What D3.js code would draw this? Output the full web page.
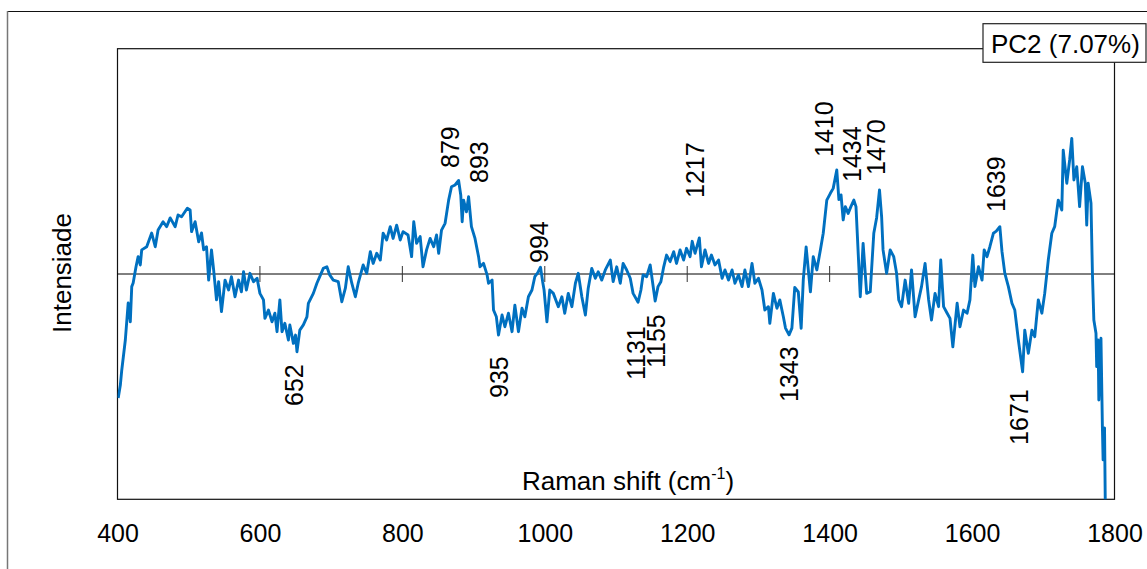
<!DOCTYPE html>
<html>
<head>
<meta charset="utf-8">
<script src="https://cdn.jsdelivr.net/npm/d3@7/dist/d3.min.js"></script>
<style>
  html, body { margin: 0; padding: 0; background: #fff; }
  svg { display: block; font-family: "Liberation Sans", Arial, sans-serif; }
</style>
</head>
<body>
<svg id="chart" width="1147" height="569"></svg>
<script>
// PC2 loading spectrum (arbitrary intensity units)
const wavenumber = [
  401,404,406,411,415,418,420,422,426,429,432,434,441,448,453,457,464,469,474,481,
  485,490,498,502,504,509,514,518,521,525,528,532,535,539,542,546,551,556,560,565,
  570,574,577,581,586,591,596,600,605,607,612,617,621,624,628,631,635,640,642,647,
  650,652,656,661,666,668,675,680,684,689,694,698,703,710,715,720,724,729,734,738,
  745,750,755,759,764,769,773,778,783,787,792,797,801,808,813,816,820,825,829,834,
  839,844,848,851,855,860,865,869,874,879,882,884,886,890,893,897,902,907,909,914,
  919,921,926,928,932,935,940,944,949,954,958,963,968,972,977,982,986,990,994,997,
  999,1003,1007,1012,1019,1024,1028,1033,1038,1043,1047,1052,1057,1061,1066,1071,1075,1080,1085,1092,
  1096,1101,1106,1110,1115,1120,1124,1131,1135,1138,1143,1148,1155,1159,1163,1167,1171,1176,1181,1185,
  1190,1195,1199,1204,1207,1211,1217,1220,1225,1230,1234,1239,1244,1249,1253,1258,1263,1267,1272,1277,
  1281,1286,1291,1295,1300,1305,1309,1314,1316,1321,1326,1330,1335,1338,1343,1347,1351,1356,1360,1363,
  1367,1373,1377,1382,1387,1391,1396,1401,1405,1410,1413,1416,1419,1422,1426,1430,1434,1437,1439,1443,
  1447,1452,1457,1462,1466,1470,1473,1475,1480,1485,1490,1494,1497,1501,1506,1511,1515,1520,1525,1529,
  1534,1539,1543,1548,1553,1556,1560,1565,1569,1573,1579,1583,1588,1593,1597,1601,1604,1609,1614,1617,
  1621,1625,1630,1634,1639,1642,1646,1651,1656,1660,1665,1671,1674,1679,1684,1688,1693,1698,1702,1707,
  1712,1716,1721,1726,1728,1733,1737,1740,1743,1747,1751,1755,1759,1761,1763,1767,1769,1771,1774,1775,
  1777,1778,1781,1783,1784,1786,1787
];
const intensity = [
  -55.0,-49.3,-42.6,-29.3,-12.9,-21.2,-5.6,-4.0,3.2,7.7,4.0,10.7,12.1,18.2,12.1,19.5,23.2,21.0,24.9,21.0,
  26.2,25.4,29.2,28.4,18.8,23.2,14.3,18.2,10.7,12.1,-2.7,10.7,1.8,-11.5,-3.4,-16.7,-2.7,-7.1,-1.2,-10.1,
  -2.7,-7.9,1.0,-7.1,0.3,-3.4,-1.9,-8.6,-11.5,-19.7,-16.0,-21.2,-17.4,-25.6,-11.5,-25.6,-21.9,-29.3,-22.6,-30.8,
  -27.1,-34.5,-24.9,-22.6,-19.0,-13.0,-8.6,-4.1,-1.2,2.5,3.2,-0.4,-2.7,-3.4,-12.3,-6.3,3.2,-4.1,-10.1,-4.1,
  4.0,0.3,9.9,4.7,9.2,6.2,18.1,15.1,21.0,15.8,21.7,15.1,18.8,17.3,7.7,23.2,13.6,16.6,3.2,10.7,
  15.8,12.1,17.3,9.2,19.5,22.5,32.8,38.7,39.5,41.5,35.1,23.2,32.8,27.6,34.3,21.0,15.8,7.7,3.2,4.7,
  -0.4,-4.1,-2.7,-16.0,-19.0,-27.1,-18.2,-23.4,-17.4,-25.6,-13.8,-25.6,-15.2,-19.0,-10.1,-7.1,-1.2,0.5,3.0,-3.4,
  -7.1,-21.2,-7.1,-8.6,-14.5,-10.1,-17.4,-8.6,-14.5,-4.1,0.3,-10.1,-18.2,-6.3,2.5,-1.9,1.0,-2.7,1.8,6.2,
  -3.4,3.2,-4.1,4.7,1.8,-1.9,-8.6,-12.5,-7.1,-0.4,-1.2,4.0,-12.0,-5.6,-3.4,3.2,8.4,5.5,9.9,4.7,
  10.7,6.2,11.4,7.7,14.5,9.2,16.0,3.2,10.7,4.7,8.4,4.0,6.2,-1.9,1.8,-2.7,1.8,-4.1,-0.4,-5.6,
  1.8,-5.6,4.7,-4.1,-1.9,-7.1,-16.0,-14.5,-21.9,-8.6,-15.2,-11.5,-19.0,-24.0,-27.0,-24.0,-6.0,-8.0,-24.1,-2.5,
  12.0,-7.9,7.7,1.8,10.7,18.1,32.8,35.8,38.0,46.2,33.0,35.1,24.0,29.9,26.9,30.0,32.8,29.9,16.6,-10.1,
  13.6,-8.6,-7.9,18.1,25.0,37.3,25.4,10.7,0.3,10.7,7.7,0.3,-11.5,-14.5,-2.7,-13.0,1.8,-19.0,-11.5,-5.6,
  4.7,-11.5,-20.4,-8.6,-14.5,6.2,-14.5,-17.4,-19.7,-32.3,-13.0,-23.4,-16.0,-17.4,-11.5,8.4,-5.6,3.2,-2.7,10.7,
  7.7,12.1,18.1,19.0,21.0,10.0,0.3,-5.6,-13.0,-16.0,-29.3,-43.4,-24.9,-35.2,-24.9,-27.8,-11.5,-17.4,-8.6,6.2,
  18.1,21.0,32.8,28.4,55.0,40.3,50.6,60.2,41.7,47.6,29.9,47.6,40.3,21.7,40.3,31.4,0.3,-20.4,-26.3,-41.1,
  -29.3,-55.9,-28.5,-67.8,-82.5,-68.3,-100.0
];

// Axis ticks
const xTickValues = [400, 600, 800, 1000, 1200, 1400, 1600, 1800];
const zeroLineTicks = [600, 800, 1000, 1200, 1400, 1600];

// Annotated band positions (cm-1)
const peakBands = [652, 879, 893, 935, 994, 1131, 1155, 1217, 1343, 1410, 1434, 1470, 1639, 1671];
// Annotation layout: horizontal nudge from the band (px) and text start row (px)
const bandLabelNudge = [6, 0, 19, 10, 7, 7, 10, 5, 9, -4, 7, 6, 5, 5];
const bandLabelRow   = [406, 168, 183, 398, 263, 380, 368, 198, 402, 157, 182, 175, 212, 445];

const seriesName = "PC2 (7.07%)";

const svg = d3.select("#chart");
const plot = { left: 117.5, right: 1114.5, top: 48.7, bottom: 499.3 };

const x = d3.scaleLinear().domain([400, 1800]).range([plot.left, plot.right]);
const y = d3.scaleLinear().domain([-100, 100]).range([plot.bottom, plot.top]);

svg.append("rect").attr("width", 1147).attr("height", 569).attr("fill", "#fff");

// outer frame
svg.append("line").attr("x1", 7.5).attr("x2", 1147).attr("y1", 11.5).attr("y2", 11.5)
  .attr("stroke", "#111").attr("stroke-width", 1.2);
svg.append("line").attr("x1", 7.5).attr("x2", 7.5).attr("y1", 11).attr("y2", 569)
  .attr("stroke", "#777").attr("stroke-width", 1.5);

// plot area border
svg.append("rect")
  .attr("x", plot.left).attr("y", plot.top)
  .attr("width", plot.right - plot.left).attr("height", plot.bottom - plot.top)
  .attr("fill", "none").attr("stroke", "#111").attr("stroke-width", 1.2);

// zero line with small crossing ticks
svg.append("line")
  .attr("x1", plot.left).attr("x2", plot.right)
  .attr("y1", y(0)).attr("y2", y(0))
  .attr("stroke", "#000").attr("stroke-width", 1);
svg.append("g").selectAll("line").data(zeroLineTicks).join("line")
  .attr("x1", d => x(d)).attr("x2", d => x(d))
  .attr("y1", y(0) - 8).attr("y2", y(0) + 8)
  .attr("stroke", "#333").attr("stroke-width", 1);

// x axis labels
const xAxis = d3.axisBottom(x).tickValues(xTickValues).tickSize(0).tickPadding(24.5)
  .tickFormat(d3.format("d"));
const gx = svg.append("g").attr("transform", `translate(0,${plot.bottom})`).call(xAxis);
gx.select(".domain").remove();
gx.selectAll("text").attr("font-size", 25).attr("fill", "#000")
  .attr("font-family", "'Liberation Sans', Arial, sans-serif");

// spectrum
svg.append("clipPath").attr("id", "plotClip").append("rect")
  .attr("x", plot.left).attr("y", plot.top)
  .attr("width", plot.right - plot.left).attr("height", plot.bottom - plot.top + 1);

const line = d3.line().x((d, i) => x(wavenumber[i])).y(d => y(d));
svg.append("path")
  .datum(intensity)
  .attr("clip-path", "url(#plotClip)")
  .attr("d", line)
  .attr("fill", "none")
  .attr("stroke", "#0070C0")
  .attr("stroke-width", 2.9)
  .attr("stroke-linejoin", "round");

// band annotations
svg.append("g").selectAll("text").data(peakBands).join("text")
  .attr("transform", (d, i) => `translate(${x(d) + bandLabelNudge[i]},${bandLabelRow[i]}) rotate(-90)`)
  .attr("font-size", 25)
  .attr("fill", "#000")
  .text(d => d);

// axis titles
const xt = svg.append("text")
  .attr("x", 628).attr("y", 490)
  .attr("text-anchor", "middle")
  .attr("font-size", 26).attr("fill", "#000");
xt.append("tspan").text("Raman shift (cm");
xt.append("tspan").attr("font-size", 16).attr("dy", -11).text("-1");
xt.append("tspan").attr("dy", 11).text(")");

svg.append("text")
  .attr("transform", "translate(71,273) rotate(-90)")
  .attr("text-anchor", "middle")
  .attr("font-size", 26).attr("fill", "#000")
  .text("Intensiade");

// series label box
const legend = svg.append("g");
legend.append("rect")
  .attr("x", 983).attr("y", 23.7).attr("width", 163).attr("height", 38.6)
  .attr("fill", "#fff").attr("stroke", "#222").attr("stroke-width", 1.2);
legend.append("text")
  .attr("x", 991).attr("y", 53)
  .attr("font-size", 26).attr("fill", "#000")
  .text(seriesName);
</script>
</body>
</html>
